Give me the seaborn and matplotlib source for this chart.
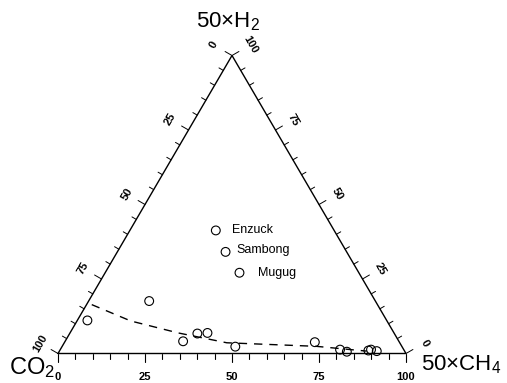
import numpy as np
import pandas as pd
import matplotlib
matplotlib.use("Agg")
import matplotlib.pyplot as plt
import seaborn as sns

# ---------------- data (percent) ----------------
site_names = ["Enzuck", "Sambong", "Mugug"]
site_ch4 = [24.7, 31.1, 38.6]
site_h2 = [41.3, 34.1, 27.1]

sample_ch4 = [17.4, 2.9, 33.9, 36.7, 39.5, 49.8, 71.9, 80.4, 82.7, 88.7, 89.3, 91.2]
sample_h2 = [17.6, 11.1, 4.1, 6.7, 6.9, 2.3, 3.8, 1.3, 0.6, 1.0, 1.3, 0.8]

trend_ch4 = [1.5, 15.5, 31.1, 46.7, 73.1, 88.3]
trend_h2 = [16.4, 10.9, 6.9, 3.6, 2.4, 0.8]

tick_values = [0, 25, 50, 75, 100]
minor_step = 5

# ---------------- styling ----------------
sns.set_theme(style="white")
plt.rcParams["font.family"] = ["Liberation Sans", "DejaVu Sans"]
plt.rcParams["mathtext.fontset"] = "custom"
plt.rcParams["mathtext.rm"] = "Liberation Sans"
plt.rcParams["mathtext.it"] = "Liberation Sans"

S3 = np.sqrt(3) / 2


def tern_xy(ch4, h2):
    c = np.asarray(ch4, float) / 100.0
    h = np.asarray(h2, float) / 100.0
    return c + h / 2, h * S3


fig = plt.figure(figsize=(5.07, 3.83), dpi=100)
ax = fig.add_axes([0, 0, 1, 1])
W, H = 507, 383
x0px, basepx, widthpx, heightpx = 58, 353.5, 348, 298
xs = widthpx            # px per x unit
ys = heightpx / S3      # px per y unit
ax.set_xlim(-x0px / xs, (W - x0px) / xs)
ax.set_ylim(-(H - basepx) / ys, basepx / ys)
ax.axis("off")

# triangle frame
frame_x, frame_y = tern_xy([0, 100, 0, 0], [0, 0, 100, 0])
ax.plot(frame_x, frame_y, color="black", lw=1.0, solid_joinstyle="miter")


def px(dx, dy):
    return dx / xs, dy / ys


minor = np.arange(0, 101, minor_step)
for v in minor:
    L = 8 if v % 25 == 0 else 5
    bx, by = tern_xy(v, 0)
    dx, dy = px(0, -L)
    ax.plot([bx, bx + dx], [by, by + dy], color="black", lw=0.8)
    lx, ly = tern_xy(0, 100 - v)
    dx, dy = px(-L * 0.866, L * 0.5)
    ax.plot([lx, lx + dx], [ly, ly + dy], color="black", lw=0.7)
    rx, ry = tern_xy(100 - v, v)
    dx, dy = px(L * 0.866, L * 0.5)
    ax.plot([rx, rx + dx], [ry, ry + dy], color="black", lw=0.7)

tfont = dict(fontsize=8, fontweight="bold", color="black")
for v in tick_values:
    bx, by = tern_xy(v, 0)
    dx, dy = px(0, -23)
    ax.text(bx + dx, by + dy, str(v), ha="center", va="center", **tfont)
    lx, ly = tern_xy(0, 100 - v)
    dx, dy = px(-21 * 0.866, 21 * 0.5)
    ax.text(lx + dx, ly + dy, str(v), ha="center", va="center", rotation=60, **tfont)
    rx, ry = tern_xy(100 - v, v)
    dx, dy = px(21 * 0.866, 21 * 0.5)
    ax.text(rx + dx, ry + dy, str(v), ha="center", va="center", rotation=-60, **tfont)

# trend line
tx, ty = tern_xy(trend_ch4, trend_h2)
dl = pd.DataFrame({"x": tx, "y": ty})
sns.lineplot(data=dl, x="x", y="y", sort=False, estimator=None, ax=ax,
             color="black", lw=1.0, linestyle=(0, (6, 5)))

# samples
sx, sy = tern_xy(sample_ch4 + site_ch4, sample_h2 + site_h2)
dp = pd.DataFrame({"x": sx, "y": sy})
sns.scatterplot(data=dp, x="x", y="y", ax=ax, marker="o", s=40,
                facecolors="none", edgecolor="black", linewidth=0.8, zorder=5)

offsets = [(16, 0), (11, 2), (19, 0)]
px_ = 0.72
ex, ey = tern_xy(site_ch4, site_h2)
for name, x, y, (ox, oy) in zip(site_names, ex, ey, offsets):
    ax.annotate(name, (x, y), xytext=(ox * px_, oy * px_), textcoords="offset points",
                ha="left", va="center", fontsize=9, color="black")

ax.set_xlabel("")
ax.set_ylabel("")

# vertex labels
ax.text((228 - x0px) / xs, (basepx - 22) / ys, r"50$\times$H$_2$",
        ha="center", va="center", fontsize=16, color="black")
ax.text((32 - x0px) / xs, (basepx - 368) / ys, r"CO$_2$",
        ha="center", va="center", fontsize=17, color="black")
ax.text((461 - x0px) / xs, (basepx - 365) / ys, r"50$\times$CH$_4$",
        ha="center", va="center", fontsize=16, color="black")

fig.savefig("out.png", dpi=100, facecolor="white")
